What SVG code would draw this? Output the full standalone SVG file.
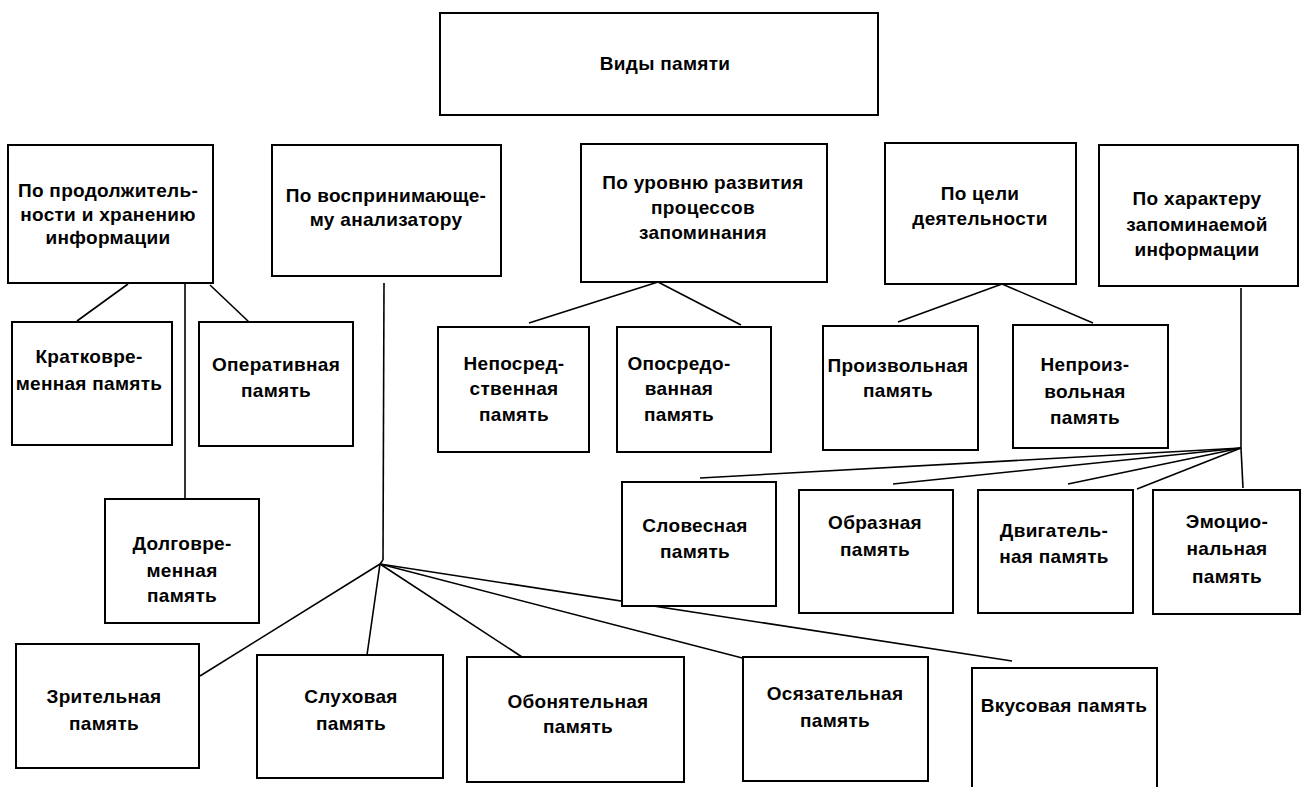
<svg xmlns="http://www.w3.org/2000/svg" width="1303" height="787" viewBox="0 0 1303 787">
<style>
  .box { fill: #ffffff; stroke: #000000; stroke-width: 2; }
  .lbl { font-family: "Liberation Sans", Arial, sans-serif; font-size: 19px; font-weight: bold; fill: #000000; text-anchor: middle; letter-spacing: 0.3px; }
  .ln { stroke: #000000; stroke-width: 1.6; fill: none; }
</style>
<rect x="0" y="0" width="1303" height="787" fill="#ffffff"/>

<g id="connectors">
  <line class="ln" x1="128" y1="284" x2="77" y2="321"/>
  <line class="ln" x1="210" y1="285" x2="249" y2="322"/>
  <line class="ln" x1="185" y1="283" x2="185" y2="499"/>
  <line class="ln" x1="384" y1="283" x2="383" y2="560"/>
  <line class="ln" x1="383" y1="560" x2="380" y2="564"/>
  <line class="ln" x1="380" y1="564" x2="200" y2="676"/>
  <line class="ln" x1="380" y1="564" x2="367" y2="655"/>
  <line class="ln" x1="380" y1="564" x2="522" y2="657"/>
  <line class="ln" x1="380" y1="564" x2="750" y2="660"/>
  <line class="ln" x1="380" y1="564" x2="1012" y2="661"/>
  <line class="ln" x1="658" y1="282" x2="529" y2="323"/>
  <line class="ln" x1="658" y1="282" x2="741" y2="325"/>
  <line class="ln" x1="1002" y1="284" x2="898" y2="322"/>
  <line class="ln" x1="1002" y1="284" x2="1093" y2="323"/>
  <line class="ln" x1="1241" y1="288" x2="1241" y2="448"/>
  <line class="ln" x1="1241" y1="448" x2="1243" y2="488"/>
  <line class="ln" x1="1241" y1="448" x2="700" y2="478"/>
  <line class="ln" x1="1241" y1="448" x2="893" y2="484"/>
  <line class="ln" x1="1241" y1="448" x2="1068" y2="484"/>
  <line class="ln" x1="1241" y1="448" x2="1137" y2="489"/>
</g>

<g id="n-root">
  <rect class="box" x="440" y="13" width="438" height="102"/>
  <text class="lbl" x="665" y="70">Виды памяти</text>
</g>

<g id="n-duration">
  <rect class="box" x="8" y="145" width="205" height="138"/>
  <text class="lbl" x="108" y="197">По продолжитель-</text>
  <text class="lbl" x="108" y="221">ности и хранению</text>
  <text class="lbl" x="108" y="244">информации</text>
</g>

<g id="n-analyzer">
  <rect class="box" x="272" y="145" width="229" height="131"/>
  <text class="lbl" x="386" y="202">По воспринимающе-</text>
  <text class="lbl" x="386" y="226">му анализатору</text>
</g>

<g id="n-level">
  <rect class="box" x="581" y="144" width="246" height="138"/>
  <text class="lbl" x="703" y="189">По уровню развития</text>
  <text class="lbl" x="703" y="214">процессов</text>
  <text class="lbl" x="703" y="239">запоминания</text>
</g>

<g id="n-goal">
  <rect class="box" x="885" y="143" width="191" height="141"/>
  <text class="lbl" x="980" y="200">По цели</text>
  <text class="lbl" x="980" y="225">деятельности</text>
</g>

<g id="n-character">
  <rect class="box" x="1099" y="145" width="199" height="141"/>
  <text class="lbl" x="1197" y="205">По характеру</text>
  <text class="lbl" x="1197" y="231">запоминаемой</text>
  <text class="lbl" x="1197" y="256">информации</text>
</g>

<g id="n-short">
  <rect class="box" x="12" y="322" width="160" height="123"/>
  <text class="lbl" x="89" y="363">Кратковре-</text>
  <text class="lbl" x="89" y="390">менная память</text>
</g>

<g id="n-operative">
  <rect class="box" x="199" y="322" width="154" height="124"/>
  <text class="lbl" x="276" y="371">Оперативная</text>
  <text class="lbl" x="276" y="397">память</text>
</g>

<g id="n-long">
  <rect class="box" x="105" y="499" width="154" height="124"/>
  <text class="lbl" x="182" y="550">Долговре-</text>
  <text class="lbl" x="182" y="577">менная</text>
  <text class="lbl" x="182" y="602">память</text>
</g>

<g id="n-direct">
  <rect class="box" x="438" y="327" width="151" height="125"/>
  <text class="lbl" x="514" y="370">Непосред-</text>
  <text class="lbl" x="514" y="395">ственная</text>
  <text class="lbl" x="514" y="421">память</text>
</g>

<g id="n-mediated">
  <rect class="box" x="617" y="327" width="154" height="125"/>
  <text class="lbl" x="679" y="370">Опосредо-</text>
  <text class="lbl" x="679" y="395">ванная</text>
  <text class="lbl" x="679" y="421">память</text>
</g>

<g id="n-voluntary">
  <rect class="box" x="823" y="326" width="155" height="124"/>
  <text class="lbl" x="898" y="372">Произвольная</text>
  <text class="lbl" x="898" y="397">память</text>
</g>

<g id="n-involuntary">
  <rect class="box" x="1013" y="325" width="155" height="123"/>
  <text class="lbl" x="1085" y="371">Непроиз-</text>
  <text class="lbl" x="1085" y="398">вольная</text>
  <text class="lbl" x="1085" y="424">память</text>
</g>

<g id="n-verbal">
  <rect class="box" x="622" y="482" width="154" height="124"/>
  <text class="lbl" x="695" y="532">Словесная</text>
  <text class="lbl" x="695" y="558">память</text>
</g>

<g id="n-image">
  <rect class="box" x="799" y="490" width="154" height="123"/>
  <text class="lbl" x="875" y="529">Образная</text>
  <text class="lbl" x="875" y="556">память</text>
</g>

<g id="n-motor">
  <rect class="box" x="978" y="490" width="155" height="123"/>
  <text class="lbl" x="1054" y="537">Двигатель-</text>
  <text class="lbl" x="1054" y="563">ная память</text>
</g>

<g id="n-emotional">
  <rect class="box" x="1153" y="490" width="147" height="124"/>
  <text class="lbl" x="1227" y="528">Эмоцио-</text>
  <text class="lbl" x="1227" y="555">нальная</text>
  <text class="lbl" x="1227" y="583">память</text>
</g>

<g id="n-visual">
  <rect class="box" x="16" y="644" width="183" height="124"/>
  <text class="lbl" x="104" y="703">Зрительная</text>
  <text class="lbl" x="104" y="730">память</text>
</g>

<g id="n-auditory">
  <rect class="box" x="257" y="655" width="186" height="123"/>
  <text class="lbl" x="351" y="703">Слуховая</text>
  <text class="lbl" x="351" y="730">память</text>
</g>

<g id="n-olfactory">
  <rect class="box" x="467" y="657" width="217" height="125"/>
  <text class="lbl" x="578" y="708">Обонятельная</text>
  <text class="lbl" x="578" y="733">память</text>
</g>

<g id="n-tactile">
  <rect class="box" x="743" y="657" width="185" height="124"/>
  <text class="lbl" x="835" y="700">Осязательная</text>
  <text class="lbl" x="835" y="727">память</text>
</g>

<g id="n-taste">
  <rect class="box" x="972" y="668" width="185" height="130"/>
  <text class="lbl" x="1064" y="712">Вкусовая память</text>
</g>
</svg>
